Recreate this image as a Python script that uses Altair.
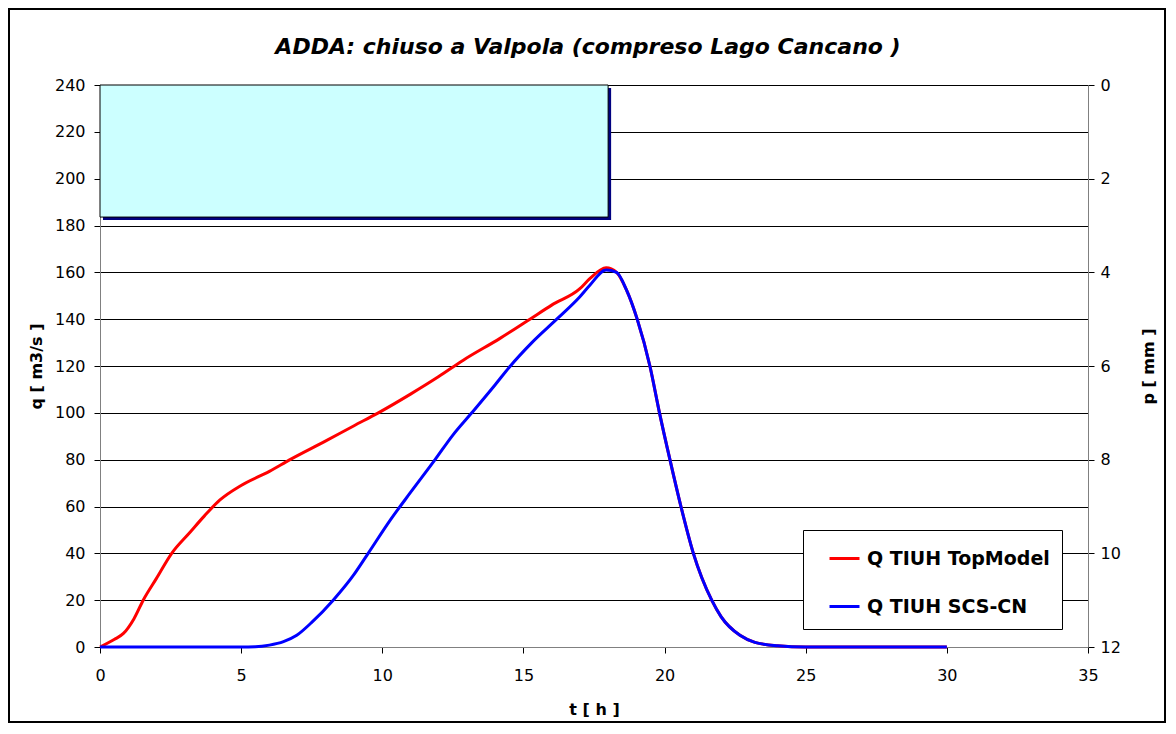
import altair as alt
import pandas as pd

TITLE = "ADDA: chiuso a Valpola (compreso Lago Cancano )"
SERIES = ["Q TIUH TopModel", "Q TIUH SCS-CN"]
COLORS = ["#FF0000", "#0000FF"]

# Q TIUH TopModel
t_top = [0, 0.5, 0.83, 1.2, 1.53, 2.0, 2.54, 3.19, 3.7, 4.25, 5.0, 6.0, 6.73, 8.0, 9.0,
         9.86, 11.0, 12.0, 12.87, 14.17, 15.23, 16.0, 17.0, 17.36, 17.93, 18.3, 18.65,
         19.03, 19.48, 19.82, 20.19, 20.58, 21.02, 21.67, 22.0, 22.67, 23.2, 24.0, 25.0, 30.0]
q_top = [0, 3.2, 5.8, 12, 20, 29.3, 40, 49, 56, 62.8, 69, 75, 80, 88, 94.5,
         100, 108, 115.5, 122.5, 131.8, 140, 146, 153, 157.4, 162, 160, 152.5,
         140, 120, 100, 80, 60, 40, 20, 13, 5, 2, 0.5, 0, 0]

# Q TIUH SCS-CN
t_scs = [0, 5.0, 5.5, 6.0, 6.5, 6.97, 7.5, 8.26, 9.0, 9.5, 10.3, 11.0, 11.87, 12.5,
         13.17, 14.0, 14.5, 15.3, 16.18, 17.0, 17.36, 17.93, 18.3, 18.65, 19.03, 19.48,
         19.82, 20.19, 20.58, 21.02, 21.67, 22.0, 22.67, 23.2, 24.0, 25.0, 30.0]
q_scs = [0, 0, 0.1, 0.8, 2.3, 5, 10.5, 20, 31, 40, 54.5, 66, 80, 90.5,
         100, 112, 119.5, 130, 140, 149.6, 154.6, 161, 160, 152.5, 140, 120,
         100, 80, 60, 40, 20, 13, 5, 2, 0.5, 0, 0]

# Rainfall (p, mm) block
rain_t0 = [0]
rain_t1 = [18]
rain_p = [2.82]

q_ticks = list(range(0, 241, 20))
p_ticks = list(range(0, 13, 2))
t_ticks = list(range(0, 36, 5))

W, H = 988, 562
FONT = "DejaVu Sans"

lines_df = pd.concat([
    pd.DataFrame({"t": t_top, "q": q_top, "serie": SERIES[0]}),
    pd.DataFrame({"t": t_scs, "q": q_scs, "serie": SERIES[1]}),
], ignore_index=True)
rain_df = pd.DataFrame({"t0": rain_t0, "t1": rain_t1, "p0": [0] * len(rain_p), "p": rain_p})
one = pd.DataFrame({"k": [0]})

x_scale = alt.Scale(domain=[0, 35], nice=False, zero=False)
q_scale = alt.Scale(domain=[0, 240], nice=False)
p_scale = alt.Scale(domain=[0, 12], reverse=True, nice=False)

common = dict(labelFont=FONT, titleFont=FONT, labelFontSize=16, titleFontSize=16,
              titleFontWeight="bold", labelColor="#000", titleColor="#000",
              domainColor="#808080", tickColor="#000", tickSize=6, labelFlush=False)

x_axis = alt.Axis(values=t_ticks, title="t [ h ]", grid=False, labelPadding=14,
                  titlePadding=18, **common)
q_axis = alt.Axis(values=q_ticks, title="q [ m3/s ]", orient="left", grid=True,
                  gridColor="#000", gridWidth=1, labelPadding=9, titlePadding=10, **common)
p_axis = alt.Axis(values=p_ticks, title="p [ mm ]", orient="right", grid=False,
                  labelPadding=6, titlePadding=36, titleAngle=270, **common)

shadow = alt.Chart(rain_df).mark_rect(color="#000080", xOffset=3, x2Offset=3,
                                      yOffset=3, y2Offset=3).encode(
    x=alt.X("t0:Q", scale=x_scale, axis=x_axis),
    x2="t1:Q",
    y=alt.Y("p0:Q", scale=p_scale, axis=p_axis),
    y2="p:Q",
)
bar = alt.Chart(rain_df).mark_rect(fill="#CCFFFF", stroke="#000", strokeWidth=1).encode(
    x=alt.X("t0:Q", scale=x_scale, axis=x_axis),
    x2="t1:Q",
    y=alt.Y("p0:Q", scale=p_scale, axis=p_axis),
    y2="p:Q",
)
rain = alt.layer(shadow, bar)

lines = alt.Chart(lines_df).mark_line(strokeWidth=3, interpolate="monotone").encode(
    x=alt.X("t:Q", scale=x_scale, axis=x_axis),
    y=alt.Y("q:Q", scale=q_scale, axis=q_axis),
    color=alt.Color("serie:N", scale=alt.Scale(domain=SERIES, range=COLORS),
                    sort=SERIES,
                    legend=alt.Legend(title=None, orient="none", legendX=703, legendY=445,
                                      direction="vertical", fillColor="white",
                                      strokeColor="#000", padding=12, symbolType="stroke",
                                      symbolSize=900, symbolStrokeWidth=3,
                                      symbolOffset=13, labelFont=FONT, labelFontSize=19,
                                      labelFontWeight="bold", labelColor="#000",
                                      labelOffset=6, rowPadding=21, labelLimit=400,
                                      cornerRadius=0)),
)

frame = alt.Chart(one).mark_rect(fill="transparent", stroke="#000", strokeWidth=2).encode(
    x=alt.value(-91), x2=alt.value(W + 77), y=alt.value(-76), y2=alt.value(H + 75)
)
title = alt.Chart(one).mark_text(font=FONT, fontSize=22, fontStyle="italic",
                                 fontWeight="bold", color="#000", baseline="middle",
                                 align="center").encode(
    x=alt.value(488), y=alt.value(-38), text=alt.value(TITLE)
)

chart = alt.layer(frame, rain, lines, title).resolve_scale(y="independent").properties(
    width=W, height=H,
    autosize=alt.AutoSizeParams(type="none"),
    padding={"left": 92, "top": 77, "right": 78, "bottom": 76},
).configure_view(stroke="#808080", strokeWidth=1).configure(background="white")

chart.save("out.html", embed_options={"renderer": "svg", "actions": False})
